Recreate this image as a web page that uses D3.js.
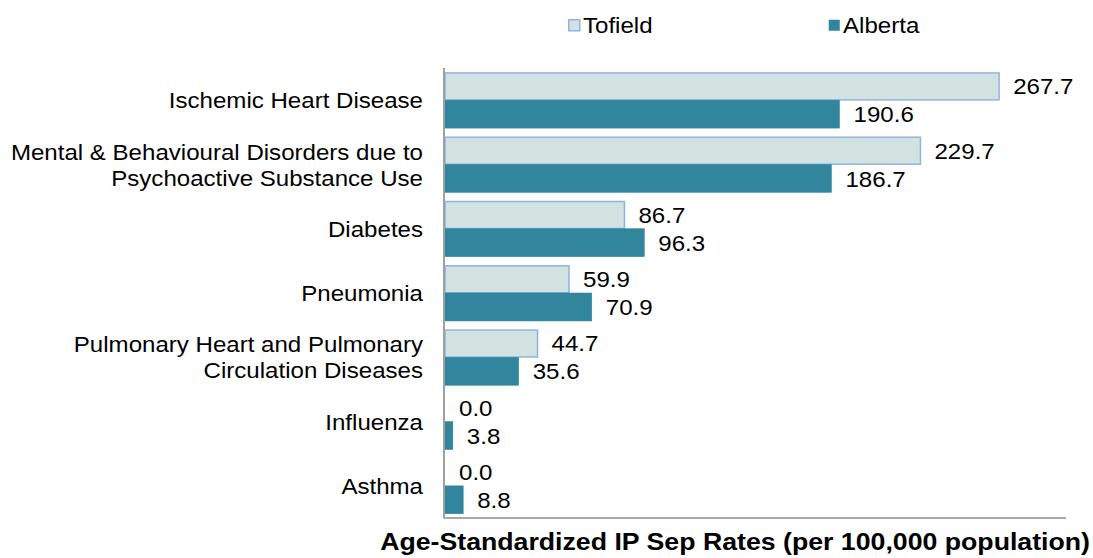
<!DOCTYPE html>
<html>
<head>
<meta charset="utf-8">
<script src="https://cdn.jsdelivr.net/npm/d3@7"></script>
<style>
  html, body { margin: 0; padding: 0; background: #fff; }
  svg { display: block; }
  text { font-family: "Liberation Sans", Arial, sans-serif; fill: #000; }
</style>
</head>
<body>
<svg id="chart" width="1093" height="558"></svg>
<script>
// ---- data ----
const categories = [
  ["Ischemic Heart Disease"],
  ["Mental & Behavioural Disorders due to", "Psychoactive Substance Use"],
  ["Diabetes"],
  ["Pneumonia"],
  ["Pulmonary Heart and Pulmonary", "Circulation Diseases"],
  ["Influenza"],
  ["Asthma"]
];
const seriesNames = ["Tofield", "Alberta"];
const tofieldValues = [267.7, 229.7, 86.7, 59.9, 44.7, 0.0, 0.0];
const albertaValues = [190.6, 186.7, 96.3, 70.9, 35.6, 3.8, 8.8];
const xAxisTitle = "Age-Standardized IP Sep Rates (per 100,000 population)";

// ---- layout ----
const svg = d3.select("#chart");
const SX = 1.07;
const FS = 22.5;
const mLeft = 445, mRight = 1066, mTop = 68, mBottom = 518;
const colors = { Tofield: { fill: "#d1e2e1", stroke: "#8eb4e3" }, Alberta: { fill: "#31859c", stroke: "#31859c" } };

const catKeys = categories.map((c, i) => i);
const x = d3.scaleLinear().domain([0, 300]).range([mLeft, mRight]);
const y = d3.scaleBand().domain(catKeys).range([mTop, mBottom]).paddingInner(0.13).paddingOuter(0.065);
const ySub = d3.scaleBand().domain(seriesNames).range([0, y.bandwidth()]).padding(0);

const rows = catKeys.map(i => ({ i, Tofield: tofieldValues[i], Alberta: albertaValues[i] }));

// bars
const groups = svg.append("g").selectAll("g").data(rows).join("g")
  .attr("transform", d => `translate(0,${y(d.i)})`);

seriesNames.forEach(s => {
  groups.append("rect")
    .attr("x", x(0))
    .attr("y", ySub(s) + (s === "Tofield" ? 0.75 : 0))
    .attr("width", d => Math.max(0, x(d[s]) - x(0)))
    .attr("height", ySub.bandwidth() - (s === "Tofield" ? 1 : 0))
    .attr("fill", colors[s].fill)
    .attr("stroke", d => d[s] > 0 ? colors[s].stroke : "none")
    .attr("stroke-width", s === "Tofield" ? 1.5 : 0.5);

  groups.append("text")
    .attr("transform", d => `translate(${x(d[s]) + 14},${ySub(s) + ySub.bandwidth() / 2}) scale(${SX},1)`)
    .attr("dy", "0.36em")
    .style("font-size", FS + "px")
    .text(d => d3.format(".1f")(d[s]));
});

// axes (no ticks)
const yAxis = d3.axisLeft(y).tickSize(0).tickFormat("");
svg.append("g").attr("transform", `translate(${mLeft - 1},0)`).call(yAxis)
  .call(g => g.select(".domain").attr("stroke", "#a0a0a0").attr("stroke-width", 2).attr("d", `M0,${mTop}V${mBottom}`));
const xAxis = d3.axisBottom(x).tickSize(0).tickFormat("");
svg.append("g").attr("transform", `translate(0,${mBottom})`).call(xAxis)
  .call(g => g.select(".domain").attr("stroke", "#a8a8a8").attr("stroke-width", 2).attr("d", `M${mLeft - 1},0H${mRight}`));

// category labels
svg.append("g").selectAll("g").data(rows).join("g")
  .attr("transform", d => `translate(${mLeft - 22},${y(d.i) + y.bandwidth() / 2}) scale(${SX},1)`)
  .each(function(d) {
    const lines = categories[d.i];
    const lh = 26;
    const g = d3.select(this);
    lines.forEach((ln, k) => {
      g.append("text")
        .attr("text-anchor", "end")
        .attr("y", (k - (lines.length - 1) / 2) * lh)
        .attr("dy", "0.36em")
        .style("font-size", FS + "px")
        .text(ln);
    });
  });

// legend
const legendX = [568, 828];
const legend = svg.append("g").selectAll("g").data(seriesNames).join("g")
  .attr("transform", (d, i) => `translate(${legendX[i]},25)`);
legend.append("rect")
  .attr("x", 0.75).attr("y", -5.25).attr("width", 11).attr("height", 11)
  .attr("fill", d => colors[d].fill)
  .attr("stroke", d => d === "Tofield" ? colors[d].stroke : "none")
  .attr("stroke-width", 1.5);
legend.append("text")
  .attr("transform", `translate(15,0) scale(${SX},1)`)
  .attr("dy", "0.36em")
  .style("font-size", FS + "px")
  .text(d => d);

// x axis title
svg.append("text")
  .attr("transform", `translate(1090,541) scale(1.09,1)`)
  .attr("text-anchor", "end")
  .attr("dy", "0.36em")
  .style("font-size", "24.5px")
  .style("font-weight", "bold")
  .text(xAxisTitle);
</script>
</body>
</html>
